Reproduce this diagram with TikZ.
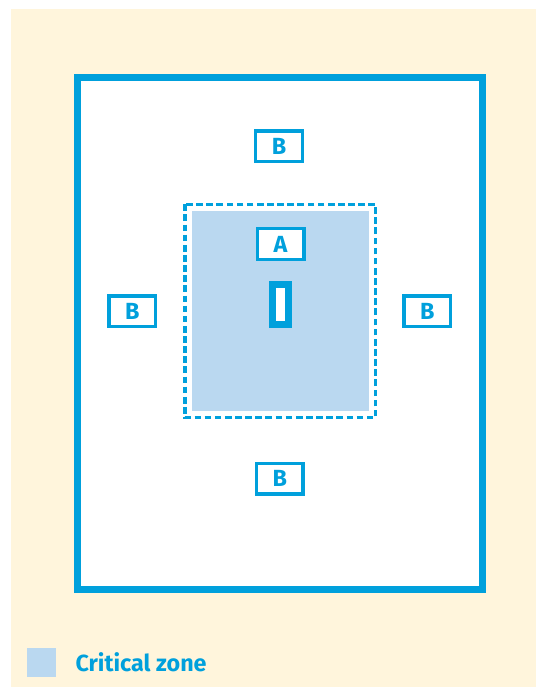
\documentclass[tikz,border=0pt]{standalone}
\usepackage[]{xcolor}
\usepackage{fontspec}
\setmainfont{Fira Sans}
\usetikzlibrary{positioning}
\definecolor{zoneblue}{RGB}{0,160,220}
\definecolor{critblue}{RGB}{186,216,240}
\definecolor{cream}{RGB}{255,245,220}
\tikzset{markbox/.style={draw=zoneblue,fill=white,line width=2.5pt,minimum width=35pt,minimum height=23pt,inner sep=0pt,text=zoneblue,font=\fontsize{17.5}{18}\selectfont\bfseries},
sensor/.style={draw=zoneblue,fill=white,line width=5.25pt,minimum width=12.3pt,minimum height=30pt,inner sep=0pt}
}

\begin{document}
\begin{tikzpicture}[x=0.75pt,y=-0.75pt]
  \useasboundingbox (0,0) rectangle (536,687);
  \fill[cream] (11,9) rectangle (536,687);

  % Room
    \draw[zoneblue,fill=white,line width=5.25pt] (77.5,77.5) rectangle (482.5,589.5);
    \fill[critblue] (192,210.7) rectangle (368.7,410.7);
    \draw[zoneblue,line width=2.5pt,dash pattern=on 5pt off 2.6pt] (185,204.3) rectangle (375.7,417.7);

    % Positions
    \node[markbox] (a) at (280.5,244) {A};
    \node[sensor] (s) at (280.5,304) {};
    \node[markbox] (b1) at (279,146.3) {B};
    \node[markbox] (b2) at (132.3,311.2) {B};
    \node[markbox] (b3) at (427.3,311.2) {B};
    \node[markbox] (b4) at (279.7,478.7) {B};

    % Legend
    \node[fill=critblue,minimum size=22pt,inner sep=0pt] (key) at (41.3,662.3) {};
    \node[right = 14.25pt of key,inner sep=0pt,text=zoneblue,font=\fontsize{17.5}{18}\selectfont\bfseries] (keytext) {Critical zone};

  \end{tikzpicture}
\end{document}
